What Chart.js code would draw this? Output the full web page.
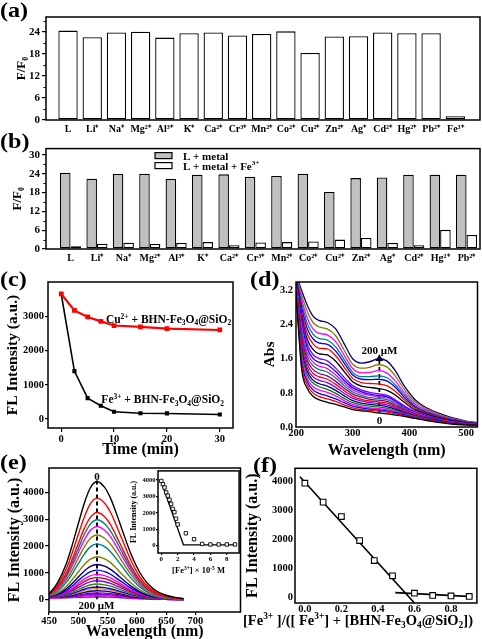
<!DOCTYPE html>
<html>
<head>
<meta charset="utf-8">
<script src="https://cdn.jsdelivr.net/npm/chart.js@4.4.1/dist/chart.umd.min.js"></script>
<style>
body { margin: 0; background: #fff; width: 482px; height: 639px; overflow: hidden; position: relative; }
canvas { position: absolute; }
.lab { position: absolute; font: bold 21px 'Liberation Serif', serif; line-height: 1; transform: scaleX(1.15); transform-origin: left top; }
</style>
</head>
<body>
<canvas id="ca" style="left:0;top:0" width="482" height="140"></canvas>
<canvas id="cb" style="left:0;top:140px" width="482" height="125"></canvas>
<canvas id="cc" style="left:0;top:270px" width="240" height="195"></canvas>
<canvas id="cd" style="left:240px;top:270px" width="242" height="195"></canvas>
<canvas id="ce" style="left:0;top:460px" width="245" height="185"></canvas>
<canvas id="cf" style="left:240px;top:460px" width="242" height="185"></canvas>
<canvas id="ci" style="left:128px;top:466px" width="116" height="114"></canvas>
<div class="lab" style="left:0;top:0">(a)</div>
<div class="lab" style="left:0;top:131px">(b)</div>
<div class="lab" style="left:0;top:269px">(c)</div>
<div class="lab" style="left:250px;top:269px">(d)</div>
<div class="lab" style="left:0;top:452px">(e)</div>
<div class="lab" style="left:253px;top:455px">(f)</div>
<script>
// (a) / (b) selectivity bars
const metals = ['L', 'Li⁺', 'Na⁺', 'Mg²⁺', 'Al³⁺', 'K⁺', 'Ca²⁺', 'Cr³⁺', 'Mn²⁺', 'Co²⁺', 'Cu²⁺', 'Zn²⁺', 'Ag⁺', 'Cd²⁺', 'Hg²⁺', 'Pb²⁺', 'Fe³⁺'];
const ratioA = [24.3, 22.5, 23.8, 24.0, 22.4, 23.6, 23.8, 23.0, 23.4, 24.1, 18.2, 22.7, 22.8, 23.8, 23.6, 23.6, 1.0];
const ratioMetal = [24.3, 22.4, 23.9, 24.0, 22.3, 23.7, 23.8, 23.0, 23.3, 24.0, 18.2, 22.6, 22.8, 23.7, 23.7, 23.7];
const ratioMetalFe = [0.9, 1.7, 2.0, 1.6, 1.9, 2.2, 1.2, 2.1, 2.2, 2.4, 3.0, 3.5, 1.9, 1.2, 6.1, 4.5];
const aTicksY = [0, 6, 12, 18, 24];
const bTicksY = [0, 6, 12, 18, 24, 30];
const abMinorY = [3, 9, 15, 21, 27];

// (c) time course
const cTime = [0, 2.5, 5, 7.5, 10, 15, 20, 30];
const cCu = [3650, 3170, 2980, 2850, 2730, 2690, 2640, 2600];
const cFe = [3650, 1400, 610, 390, 215, 170, 165, 135];
const cTicksX = [0, 10, 20, 30];
const cTicksY = [0, 1000, 2000, 3000];

// (d) UV-vis titration
const dWl = [200, 210, 220, 230, 240, 255, 270, 285, 300, 315, 330, 345, 360, 375, 390, 410, 430, 450, 475, 500, 520];
const dAbs = [
  [3.15, 1.35, 0.90, 0.72, 0.64, 0.58, 0.53, 0.47, 0.41, 0.38, 0.36, 0.33, 0.31, 0.28, 0.25, 0.20, 0.15, 0.11, 0.07, 0.05, 0.04],
  [3.20, 1.45, 0.98, 0.80, 0.72, 0.66, 0.60, 0.52, 0.45, 0.41, 0.39, 0.37, 0.35, 0.31, 0.27, 0.21, 0.16, 0.12, 0.08, 0.05, 0.04],
  [3.20, 1.55, 1.06, 0.87, 0.79, 0.73, 0.66, 0.57, 0.49, 0.45, 0.42, 0.40, 0.38, 0.34, 0.29, 0.22, 0.17, 0.13, 0.08, 0.06, 0.04],
  [3.25, 1.65, 1.14, 0.95, 0.87, 0.81, 0.73, 0.62, 0.53, 0.48, 0.45, 0.43, 0.41, 0.36, 0.30, 0.23, 0.18, 0.13, 0.09, 0.06, 0.04],
  [3.25, 1.75, 1.22, 1.03, 0.95, 0.88, 0.79, 0.67, 0.57, 0.52, 0.49, 0.47, 0.44, 0.39, 0.32, 0.25, 0.19, 0.14, 0.09, 0.06, 0.05],
  [3.30, 1.85, 1.30, 1.10, 1.02, 0.96, 0.86, 0.73, 0.62, 0.56, 0.53, 0.51, 0.48, 0.42, 0.34, 0.26, 0.20, 0.15, 0.10, 0.06, 0.05],
  [3.30, 1.95, 1.38, 1.18, 1.10, 1.04, 0.93, 0.79, 0.67, 0.61, 0.57, 0.55, 0.52, 0.45, 0.36, 0.27, 0.21, 0.15, 0.10, 0.07, 0.05],
  [3.35, 2.05, 1.47, 1.26, 1.18, 1.12, 1.00, 0.85, 0.72, 0.65, 0.61, 0.59, 0.56, 0.48, 0.38, 0.29, 0.22, 0.16, 0.11, 0.07, 0.05],
  [3.35, 2.15, 1.56, 1.35, 1.26, 1.20, 1.07, 0.91, 0.77, 0.70, 0.65, 0.63, 0.60, 0.51, 0.41, 0.30, 0.23, 0.17, 0.11, 0.07, 0.06],
  [3.40, 2.25, 1.65, 1.44, 1.35, 1.29, 1.15, 0.97, 0.82, 0.74, 0.69, 0.67, 0.64, 0.55, 0.43, 0.31, 0.24, 0.18, 0.12, 0.08, 0.06],
  [3.40, 2.35, 1.74, 1.52, 1.43, 1.37, 1.22, 1.03, 0.87, 0.79, 0.74, 0.71, 0.68, 0.58, 0.45, 0.33, 0.25, 0.18, 0.12, 0.08, 0.06],
  [3.45, 2.45, 1.84, 1.61, 1.52, 1.46, 1.30, 1.09, 0.92, 0.83, 0.77, 0.74, 0.71, 0.61, 0.47, 0.34, 0.26, 0.19, 0.13, 0.08, 0.06],
  [3.45, 2.55, 1.94, 1.70, 1.61, 1.55, 1.38, 1.16, 0.97, 0.87, 0.81, 0.78, 0.75, 0.64, 0.50, 0.36, 0.27, 0.20, 0.13, 0.09, 0.06],
  [3.50, 2.60, 2.05, 1.82, 1.72, 1.69, 1.54, 1.30, 1.06, 0.96, 0.93, 0.90, 0.86, 0.75, 0.59, 0.40, 0.30, 0.22, 0.15, 0.10, 0.07],
  [3.50, 2.70, 2.18, 1.95, 1.85, 1.83, 1.67, 1.40, 1.14, 1.04, 1.02, 1.01, 0.97, 0.84, 0.65, 0.44, 0.32, 0.24, 0.16, 0.10, 0.07],
  [3.55, 2.80, 2.30, 2.07, 1.97, 1.94, 1.78, 1.50, 1.22, 1.12, 1.11, 1.12, 1.08, 0.93, 0.71, 0.47, 0.34, 0.25, 0.17, 0.11, 0.08],
  [3.55, 2.90, 2.42, 2.18, 2.08, 2.04, 1.88, 1.58, 1.28, 1.18, 1.18, 1.20, 1.16, 0.99, 0.76, 0.50, 0.36, 0.26, 0.18, 0.11, 0.08],
  [3.60, 3.00, 2.55, 2.30, 2.20, 2.16, 2.00, 1.68, 1.37, 1.27, 1.28, 1.32, 1.27, 1.08, 0.82, 0.54, 0.39, 0.28, 0.19, 0.12, 0.09],
  [3.60, 3.10, 2.70, 2.45, 2.35, 2.30, 2.14, 1.80, 1.47, 1.38, 1.40, 1.46, 1.41, 1.20, 0.90, 0.59, 0.42, 0.30, 0.20, 0.13, 0.09],
  [3.60, 3.20, 2.85, 2.60, 2.50, 2.45, 2.30, 1.95, 1.60, 1.50, 1.53, 1.60, 1.55, 1.32, 0.98, 0.64, 0.45, 0.33, 0.22, 0.14, 0.10]
];
const dColors = ['#000000', '#ff0000', '#0000ff', '#ff00ff', '#008000', '#000080', '#8000ff', '#ff0000', '#800080', '#008080', '#ff00ff', '#0000ff', '#8000ff',
                 '#000000', '#ff0000', '#0000ff', '#008080', '#ff00ff', '#808000', '#000080'];
const dArrowWl = [347, 347];
const dArrowAbs = [0.33, 1.6];
const dTicksX = [200, 300, 400, 500];
const dTicksY = [0, 0.8, 1.6, 2.4, 3.2];

// (e) emission titration
const eWl = [450, 465, 480, 490, 500, 510, 520, 532, 545, 555, 565, 575, 590, 605, 620, 635, 650, 665, 680];
const eFL = [
  [200, 640, 1370, 2060, 2830, 3580, 4150, 4410, 4190, 3790, 3220, 2600, 1700, 1010, 560, 300, 160, 80, 35],
  [190, 550, 1170, 1770, 2430, 3070, 3560, 3790, 3600, 3260, 2770, 2240, 1460, 860, 470, 250, 130, 65, 30],
  [180, 480, 1010, 1520, 2090, 2640, 3050, 3250, 3090, 2800, 2370, 1920, 1250, 740, 400, 210, 110, 55, 25],
  [170, 440, 920, 1390, 1910, 2420, 2800, 2980, 2830, 2560, 2180, 1760, 1150, 680, 370, 190, 95, 45, 20],
  [160, 400, 850, 1270, 1750, 2210, 2570, 2730, 2590, 2350, 1990, 1610, 1050, 620, 335, 170, 85, 40, 18],
  [150, 360, 750, 1120, 1550, 1950, 2270, 2410, 2290, 2070, 1760, 1420, 930, 550, 300, 150, 75, 35, 15],
  [140, 310, 650, 970, 1340, 1690, 1960, 2080, 1980, 1790, 1520, 1230, 800, 475, 260, 130, 65, 30, 12],
  [130, 250, 500, 750, 1030, 1300, 1500, 1600, 1520, 1380, 1170, 940, 620, 365, 200, 100, 50, 24, 10],
  [120, 210, 410, 610, 840, 1060, 1230, 1310, 1250, 1130, 960, 770, 500, 300, 165, 82, 40, 20, 8],
  [115, 185, 345, 515, 710, 890, 1035, 1100, 1045, 945, 800, 650, 425, 255, 140, 70, 34, 16, 7],
  [110, 165, 300, 440, 605, 765, 885, 940, 895, 810, 690, 555, 365, 220, 120, 60, 29, 14, 6],
  [105, 150, 265, 385, 530, 665, 770, 820, 780, 705, 600, 485, 320, 190, 105, 52, 25, 12, 5],
  [100, 140, 230, 330, 455, 570, 660, 700, 665, 605, 515, 415, 275, 165, 90, 45, 22, 10, 4],
  [95, 125, 195, 275, 375, 470, 545, 580, 550, 500, 425, 345, 230, 135, 75, 38, 18, 8, 3],
  [90, 115, 165, 225, 305, 385, 445, 470, 445, 405, 345, 280, 185, 112, 62, 31, 15, 7, 3],
  [85, 105, 145, 195, 265, 335, 390, 410, 390, 355, 300, 245, 160, 98, 54, 27, 13, 6, 3],
  [80, 95, 125, 160, 215, 270, 310, 330, 315, 285, 245, 200, 130, 80, 45, 23, 11, 5, 2],
  [75, 85, 105, 130, 165, 205, 235, 250, 240, 218, 188, 155, 102, 63, 36, 18, 9, 4, 2],
  [70, 78, 92, 110, 138, 168, 190, 200, 192, 176, 152, 126, 85, 53, 30, 15, 7, 3, 1],
  [65, 70, 80, 92, 110, 130, 144, 150, 145, 134, 117, 98, 68, 43, 24, 12, 6, 3, 1],
  [60, 63, 68, 74, 82, 92, 98, 100, 97, 90, 80, 68, 49, 32, 18, 9, 5, 2, 1]
];
const eColors = ['#000000', '#ff0000', '#ff0000', '#008080', '#ff00ff', '#808000', '#008080', '#808000', '#000080', '#0000ff', '#ff00ff',
                 '#c00000', '#8000ff', '#408000', '#0000ff', '#ff8000', '#000080', '#800080', '#8000ff', '#ff00ff', '#800080'];
const eArrowWl = [532, 532];
const eArrowFL = [4450, 150];
const eTicksX = [450, 500, 550, 600, 650, 700];
const eTicksY = [0, 1000, 2000, 3000, 4000];

// (e) inset
const insetConc = [0, 0.2, 0.4, 0.6, 0.8, 1.0, 1.2, 1.4, 1.6, 1.8, 2.0, 3, 4, 5, 6, 7, 8, 9];
const insetFL = [3950, 3750, 3550, 3250, 3050, 2800, 2550, 2250, 2050, 1650, 1300, 760, 400, 110, 80, 80, 80, 80];
const insetFitX = [-0.1, 2.7, 9.2];
const insetFitY = [4030, 60, 60];
const insetTicksX = [0, 2, 4, 6, 8];
const insetTicksY = [0, 1000, 2000, 3000, 4000];

// (f) Job plot
const fRatio = [0, 0.1, 0.2, 0.3, 0.38, 0.48, 0.6, 0.7, 0.8, 0.9];
const fFL = [3945, 3290, 2790, 1960, 1270, 740, 140, 60, 45, 25];
const fFit1X = [-0.027, 0.6];
const fFit1Y = [4170, -200];
const fFit2X = [0.495, 0.917];
const fFit2Y = [160, 20];
const fTicksX = [0, 0.2, 0.4, 0.6, 0.8];
const fTicksY = [0, 1000, 2000, 3000, 4000];

const SERIF = "'Liberation Serif','Times New Roman',serif";
Chart.defaults.font.family = SERIF;
Chart.defaults.font.weight = 'bold';
Chart.defaults.color = '#000';
Chart.defaults.animation = false;
Chart.defaults.responsive = false;
Chart.defaults.plugins.legend.display = false;
Chart.defaults.plugins.tooltip.enabled = false;

Chart.register({
  id: 'frame',
  afterDraw(c) {
    const a = c.chartArea, ctx = c.ctx;
    ctx.save();
    ctx.strokeStyle = '#000';
    ctx.lineWidth = 1.5;
    ctx.strokeRect(a.left, a.top, a.right - a.left, a.bottom - a.top);
    ctx.restore();
  }
});

const xy = (xs, ys) => xs.map((x, i) => ({ x: x, y: ys[i] }));

// short minor tick marks on the left axis
const minorY = vals => ({
  id: 'minorY',
  afterDraw(c) {
    const ctx = c.ctx, y = c.scales.y, a = c.chartArea;
    ctx.save();
    ctx.strokeStyle = '#000';
    ctx.lineWidth = 1;
    vals.forEach(v => {
      const py = Math.round(y.getPixelForValue(v)) + 0.5;
      ctx.beginPath();
      ctx.moveTo(a.left - 2.5, py);
      ctx.lineTo(a.left, py);
      ctx.stroke();
    });
    ctx.restore();
  }
});

// text with ^{..} superscripts and _{..} subscripts, y = baseline
function rich(ctx, str, x, y, size, align) {
  const parts = [];
  const re = /([\^_])\{([^}]*)\}|([^\^_]+)/g;
  let m;
  while ((m = re.exec(str))) {
    if (m[3]) parts.push({ t: m[3], k: 0 });
    else parts.push({ t: m[2], k: m[1] === '^' ? 1 : -1 });
  }
  const small = size * 0.65;
  let w = 0;
  parts.forEach(p => {
    ctx.font = 'bold ' + (p.k ? small : size) + 'px ' + SERIF;
    p.w = ctx.measureText(p.t).width;
    w += p.w;
  });
  let cx = align === 'center' ? x - w / 2 : x;
  ctx.textAlign = 'left';
  ctx.textBaseline = 'alphabetic';
  ctx.fillStyle = '#000';
  parts.forEach(p => {
    ctx.font = 'bold ' + (p.k ? small : size) + 'px ' + SERIF;
    const dy = p.k === 1 ? -size * 0.38 : p.k === -1 ? size * 0.2 : 0;
    ctx.fillText(p.t, cx, y + dy);
    cx += p.w;
  });
}

function axis(pos, o) {
  const vertical = pos === 'left';
  return {
    type: 'linear', position: pos, min: o.min, max: o.max, offset: false,
    afterBuildTicks: s => { s.ticks = o.ticks.map(v => ({ value: v })); },
    afterFit: s => { if (vertical) s.width = o.size; else s.height = o.size; },
    grid: { display: o.tl > 0, offset: false, drawOnChartArea: false, tickLength: o.tl || 0, color: '#000', lineWidth: 1.2 },
    border: { display: false },
    ticks: { autoSkip: false, maxRotation: 0, padding: o.pad, font: { size: o.font || 10, weight: 'bold' }, callback: o.fmt || (v => v) },
    title: {
      display: !!o.title, text: o.title, font: { size: o.tsize || 16, weight: 'bold' },
      padding: vertical ? { top: o.tpad, bottom: 0 } : { top: 0, bottom: o.tpad }
    }
  };
}

// (a)
new Chart(document.getElementById('ca'), {
  type: 'bar',
  data: { datasets: [{ data: xy(ratioA.map((v, i) => i), ratioA), backgroundColor: '#fff', borderColor: '#000', borderWidth: 1.3, borderSkipped: false, categoryPercentage: 0.8, barPercentage: 1 }] },
  options: {
    layout: { padding: { top: 17, right: 2, left: 0, bottom: 0 } },
    scales: {
      x: axis('bottom', { min: -0.91, max: 17.02, ticks: metals.map((m, i) => i), size: 20, tl: 0, pad: 3, font: 10, fmt: v => metals[v] }),
      y: axis('left', { min: 0, max: 28, ticks: aTicksY, size: 46, tl: 4, pad: 2, font: 11, title: 'F/F₀', tsize: 13, tpad: 14 })
    }
  },
  plugins: [minorY(abMinorY)]
});

// (b)
new Chart(document.getElementById('cb'), {
  type: 'bar',
  data: {
    datasets: [
      { label: 'L + metal', data: xy(ratioMetal.map((v, i) => i), ratioMetal), backgroundColor: '#c0c0c0', borderColor: '#000', borderWidth: 1.3, borderSkipped: false, categoryPercentage: 0.8, barPercentage: 1 },
      { label: 'L + metal + Fe^{3+}', data: xy(ratioMetalFe.map((v, i) => i), ratioMetalFe), backgroundColor: '#fff', borderColor: '#000', borderWidth: 1.3, borderSkipped: false, categoryPercentage: 0.8, barPercentage: 1 }
    ]
  },
  options: {
    layout: { padding: { top: 5, right: 2, left: 0, bottom: 0 } },
    scales: {
      x: axis('bottom', { min: -0.93, max: 15.51, ticks: ratioMetal.map((v, i) => i), size: 16, tl: 0, pad: 3, font: 10, fmt: v => metals[v] }),
      y: axis('left', { min: 0, max: 32, ticks: bTicksY, size: 46, tl: 4, pad: 2, font: 11, title: 'F/F₀', tsize: 13, tpad: 10 })
    }
  },
  plugins: [minorY(abMinorY), {
    id: 'legendB',
    afterDraw(c) {
      const ctx = c.ctx, a = c.chartArea;
      c.data.datasets.forEach((ds, i) => {
        const x = a.left + 109, y = a.top + 4 + i * 10;
        ctx.fillStyle = ds.backgroundColor;
        ctx.strokeStyle = '#000';
        ctx.lineWidth = 1.2;
        ctx.fillRect(x, y, 17, 6);
        ctx.strokeRect(x, y, 17, 6);
        rich(ctx, ds.label, x + 28, y + 7, 11, 'left');
      });
    }
  }]
});

// (c)
new Chart(document.getElementById('cc'), {
  type: 'line',
  data: {
    datasets: [
      { data: xy(cTime, cCu), borderColor: '#ff0000', backgroundColor: '#ff0000', borderWidth: 2.2, pointStyle: 'rect', pointRadius: 1.8 },
      { data: xy(cTime, cFe), borderColor: '#000', backgroundColor: '#000', borderWidth: 1.6, pointStyle: 'rect', pointRadius: 1.8 }
    ]
  },
  options: {
    layout: { padding: { top: 12, right: 7, left: 0, bottom: 0 } },
    scales: {
      x: axis('bottom', { min: -2.5, max: 32.5, ticks: cTicksX, size: 37, tl: 4, pad: 1, font: 10.5, title: 'Time (min)', tsize: 16, tpad: 6 }),
      y: axis('left', { min: -260, max: 4000, ticks: cTicksY, size: 48, tl: 3, pad: 1, font: 10.5, title: 'FL Intensity (a.u.)', tsize: 15.5, tpad: 4 })
    }
  },
  plugins: [{
    id: 'labelsC',
    afterDraw(c) {
      const ctx = c.ctx, x = c.scales.x, y = c.scales.y;
      rich(ctx, 'Cu^{2+} + BHN-Fe_{3}O_{4}@SiO_{2}', x.getPixelForValue(20.3), y.getPixelForValue(2800), 11.5, 'center');
      rich(ctx, 'Fe^{3+} + BHN-Fe_{3}O_{4}@SiO_{2}', x.getPixelForValue(19.2), y.getPixelForValue(460), 11.5, 'center');
    }
  }]
});

// (d)
const dSets = dAbs.map((row, i) => ({ data: xy(dWl, row), borderColor: dColors[i], borderWidth: 1.3, pointRadius: 0, cubicInterpolationMode: 'monotone' }));
dSets.push({ data: xy(dArrowWl, dArrowAbs), borderColor: '#000', backgroundColor: '#000', borderWidth: 1.8, borderDash: [4, 3], pointStyle: 'triangle', pointRadius: [0, 4.5], pointBorderWidth: 0 });
new Chart(document.getElementById('cd'), {
  type: 'line',
  data: { datasets: dSets },
  options: {
    layout: { padding: { top: 12, right: 1, left: 0, bottom: 0 } },
    scales: {
      x: axis('bottom', { min: 200, max: 520, ticks: dTicksX, size: 38, tl: 0, pad: 0, font: 10.5, title: 'Wavelength (nm)', tsize: 16, tpad: 5 }),
      y: axis('left', { min: 0, max: 3.4, ticks: dTicksY, size: 56, tl: 0, pad: 3, font: 10.5, fmt: v => v.toFixed(1), title: 'Abs', tsize: 15.5, tpad: 21 })
    }
  },
  plugins: [{
    id: 'labelsD',
    afterDraw(c) {
      const ctx = c.ctx, x = c.scales.x, y = c.scales.y;
      rich(ctx, '200 μM', x.getPixelForValue(347), y.getPixelForValue(1.72), 11, 'center');
      rich(ctx, '0', x.getPixelForValue(347), y.getPixelForValue(0.08), 11, 'center');
    }
  }]
});

// (e)
const eSets = eFL.map((row, i) => ({ data: xy(eWl, row), borderColor: eColors[i], borderWidth: 1.4, pointRadius: 0, cubicInterpolationMode: 'monotone' }));
eSets.push({ data: xy(eArrowWl, eArrowFL), borderColor: '#000', backgroundColor: '#000', borderWidth: 2, borderDash: [4, 3], pointStyle: 'triangle', pointRotation: 180, pointRadius: [0, 4.5], pointBorderWidth: 0 });
new Chart(document.getElementById('ce'), {
  type: 'line',
  data: { datasets: eSets },
  options: {
    layout: { padding: { top: 8, right: 3, left: 0, bottom: 0 } },
    scales: {
      x: axis('bottom', { min: 450, max: 777, ticks: eTicksX, size: 33, tl: 3, pad: 0, font: 10.5, title: 'Wavelength (nm)', tsize: 16, tpad: 4 }),
      y: axis('left', { min: -465, max: 4915, ticks: eTicksY, size: 49, tl: 4, pad: 1, font: 10.5, title: 'FL Intensity (a.u.)', tsize: 16, tpad: 5 })
    }
  },
  plugins: [{
    id: 'labelsE',
    afterDraw(c) {
      const ctx = c.ctx, x = c.scales.x, y = c.scales.y;
      rich(ctx, '0', x.getPixelForValue(532), y.getPixelForValue(4470), 11, 'center');
      rich(ctx, '200 μM', x.getPixelForValue(531), y.getPixelForValue(-370), 11, 'center');
    }
  }]
});

// (e) inset
new Chart(document.getElementById('ci'), {
  type: 'line',
  data: {
    datasets: [
      { data: xy(insetConc, insetFL), showLine: false, pointStyle: 'rect', pointRadius: 2.4, pointBackgroundColor: '#fff', pointBorderColor: '#000', pointBorderWidth: 0.9 },
      { data: xy(insetFitX, insetFitY), borderColor: '#000', borderWidth: 1.3, pointRadius: 0 }
    ]
  },
  options: {
    layout: { padding: { top: 4, right: 2, left: 0, bottom: 0 } },
    scales: {
      x: axis('bottom', { min: -0.4, max: 9.5, ticks: insetTicksX, size: 27, tl: 2, pad: 0, font: 7 }),
      y: axis('left', { min: -440, max: 4560, ticks: insetTicksY, size: 30, tl: 2, pad: 0.5, font: 6.5, title: 'FL Intensity (a.u.)', tsize: 8, tpad: 1 })
    }
  },
  plugins: [{
    id: 'insetBg',
    beforeDraw(c) {
      const a = c.chartArea, ctx = c.ctx;
      ctx.fillStyle = '#fff';
      ctx.fillRect(a.left, a.top, a.right - a.left, a.bottom - a.top);
    },
    afterDraw(c) {
      const a = c.chartArea;
      rich(c.ctx, '[Fe^{3+}] × 10^{-5} M', (a.left + a.right) / 2, a.bottom + 20, 8.5, 'center');
    }
  }]
});

// (f)
new Chart(document.getElementById('cf'), {
  type: 'line',
  data: {
    datasets: [
      { data: xy(fRatio, fFL), showLine: false, pointStyle: 'rect', pointRadius: 4, pointBackgroundColor: '#fff', pointBorderColor: '#000', pointBorderWidth: 1.1 },
      { data: xy(fFit1X, fFit1Y), borderColor: '#000', borderWidth: 1.6, pointRadius: 0 },
      { data: xy(fFit2X, fFit2Y), borderColor: '#000', borderWidth: 1.6, pointRadius: 0 }
    ]
  },
  options: {
    layout: { padding: { top: 8, right: 2, left: 0, bottom: 0 } },
    scales: {
      x: axis('bottom', { min: -0.054, max: 0.942, ticks: fTicksX, size: 42, tl: 0, pad: 0, font: 10.5, fmt: v => v.toFixed(1) }),
      y: axis('left', { min: -200, max: 4460, ticks: fTicksY, size: 55, tl: 0, pad: 2, font: 10.5, title: 'FL Intensity (a.u.)', tsize: 16, tpad: 3.5 })
    }
  },
  plugins: [{
    id: 'titleF',
    afterDraw(c) {
      const a = c.chartArea;
      rich(c.ctx, '[Fe^{3+} ]/([ Fe^{3+}] + [BHN-Fe_{3}O_{4}@SiO_{2}])', a.left + 63, a.bottom + 22, 14.5, 'center');
    }
  }]
});
</script>
</body>
</html>
